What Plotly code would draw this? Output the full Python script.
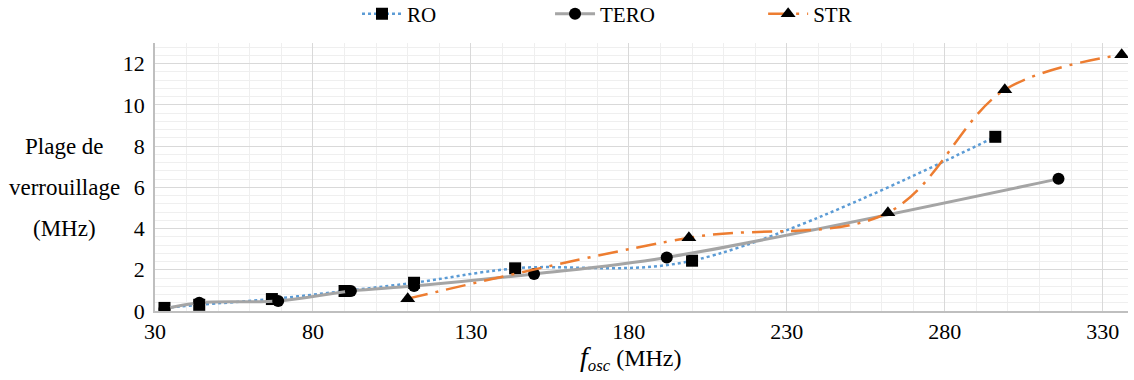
import plotly.graph_objects as go

ro_x = [33, 44, 67, 90, 112, 144, 200, 296]
ro_y = [0.15, 0.3, 0.58, 0.97, 1.37, 2.07, 2.44, 8.45]
tero_x = [33, 44, 69, 92, 112, 150, 192, 316]
tero_y = [0.1, 0.4, 0.49, 0.97, 1.21, 1.8, 2.6, 6.41]
str_x = [110, 199, 262, 299, 336]
str_y = [0.6, 3.55, 4.77, 10.73, 12.43]

FONT = "Liberation Serif, Times New Roman, Times, serif"

fig = go.Figure()
fig.add_trace(go.Scatter(
    x=ro_x, y=ro_y, name="RO", mode="lines+markers", legend="legend",
    line=dict(color="#5B9BD5", width=2.5, dash="dot", shape="spline", smoothing=1),
    marker=dict(symbol="square", size=12, color="black"),
))
fig.add_trace(go.Scatter(
    x=tero_x, y=tero_y, name="TERO", mode="lines+markers", legend="legend2",
    line=dict(color="#A5A5A5", width=3, shape="spline", smoothing=1),
    marker=dict(symbol="circle", size=12, color="black"),
))
fig.add_trace(go.Scatter(
    x=str_x, y=str_y, name="STR", mode="lines+markers", legend="legend3",
    line=dict(color="#ED7D31", width=2.5, dash="20px,8px,3px,8px", shape="spline", smoothing=1),
    marker=dict(symbol="triangle-up", size=13, color="black"),
))

leg_common = dict(orientation="h", y=1.108, yanchor="middle", xanchor="left",
                  font=dict(family=FONT, size=21), itemwidth=40, bgcolor="rgba(0,0,0,0)")

fig.update_layout(
    width=1134, height=380,
    margin=dict(l=155, r=6, t=43, b=69, autoexpand=False),
    paper_bgcolor="white", plot_bgcolor="white",
    font=dict(family=FONT, size=21, color="black"),
    showlegend=True,
    legend=dict(x=0.2076, **leg_common),
    legend2=dict(x=0.406, **leg_common),
    legend3=dict(x=0.625, **leg_common),
    xaxis=dict(
        range=[30, 338], tick0=30, dtick=50, showgrid=True, gridcolor="#D9D9D9", gridwidth=1.2,
        minor=dict(dtick=10, tick0=30, showgrid=True, gridcolor="#EFEFEF", gridwidth=1),
        showline=True, linecolor="#BFBFBF", linewidth=1.5, zeroline=False,
        ticks="", tickfont=dict(family=FONT, size=22),
    ),
    yaxis=dict(
        range=[0, 13], tick0=0, dtick=2, showgrid=True, gridcolor="#D9D9D9", gridwidth=1.2,
        minor=dict(dtick=0.4, tick0=0, showgrid=True, gridcolor="#EFEFEF", gridwidth=1),
        showline=True, linecolor="#BFBFBF", linewidth=1.5, zeroline=False,
        ticks="", tickfont=dict(family=FONT, size=22), ticklabelstandoff=4,
    ),
)

for txt, yv in [("Plage de", 8), ("verrouillage", 6), ("(MHz)", 4)]:
    fig.add_annotation(text=txt, xref="paper", yref="y", x=-0.0925, y=yv,
                       xanchor="center", yanchor="middle", showarrow=False,
                       font=dict(family=FONT, size=23, color="black"))

fig.add_annotation(text="<span style='font-size:28px'><i>f</i></span><sub><i>osc</i></sub> (MHz)",
                   xref="paper", yref="paper",
                   x=0.489, y=-0.175, xanchor="center", yanchor="middle", showarrow=False,
                   font=dict(family=FONT, size=24, color="black"))

fig.write_html("out.html", config={"displayModeBar": False},
               post_script="document.body.style.margin='0px';")
